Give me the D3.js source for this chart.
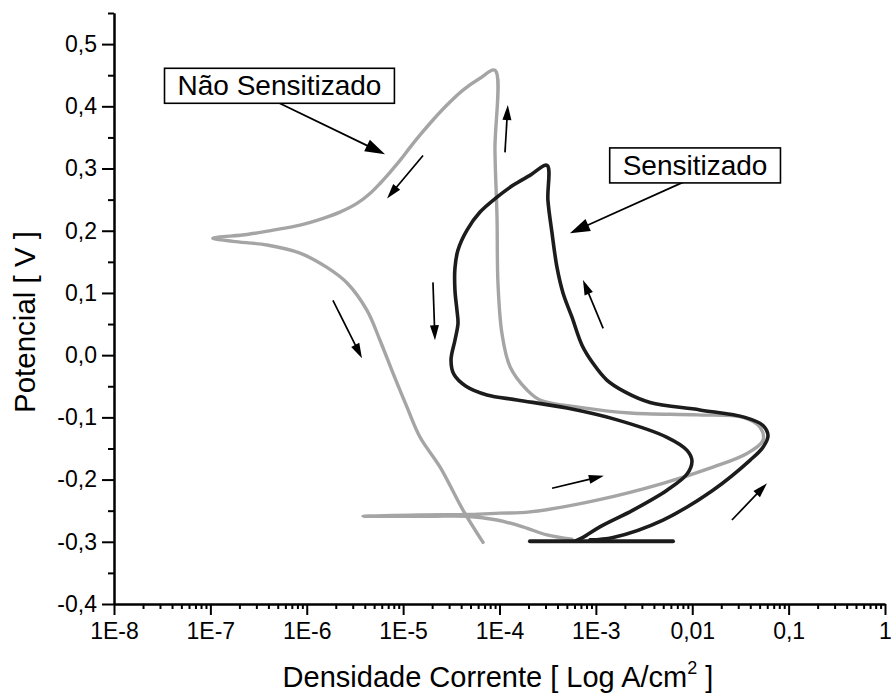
<!DOCTYPE html>
<html><head><meta charset="utf-8">
<script src="https://cdn.jsdelivr.net/npm/d3@7/dist/d3.min.js"></script>
<style>body{margin:0;background:#fff}svg{display:block}</style>
</head><body>
<svg id="chart" width="891" height="695"></svg>
<script>
// ---- data ----
const xTickValues = [1e-8, 1e-7, 1e-6, 1e-5, 1e-4, 1e-3, 1e-2, 1e-1, 1];
const xTickLabels = ["1E-8", "1E-7", "1E-6", "1E-5", "1E-4", "1E-3", "0,01", "0,1", "1"];
const yTickValues = [-0.4, -0.3, -0.2, -0.1, 0.0, 0.1, 0.2, 0.3, 0.4, 0.5];
const yTickLabels = ["-0,4", "-0,3", "-0,2", "-0,1", "0,0", "0,1", "0,2", "0,3", "0,4", "0,5"];

// Não Sensitizado (gray) : current density [A/cm2], potential [V]
const currentNaoSens = [5.65e-4, 3.11e-4, 1.75e-4, 9.42e-5, 4.60e-5, 1.90e-5, 3.84e-6, 1.50e-5, 4.94e-5, 1.01e-4,
  2.07e-4, 1.03e-3, 4.97e-3, 1.64e-2, 3.70e-2, 5.42e-2, 5.05e-2, 3.37e-2, 1.12e-2, 2.26e-3,
  6.84e-4, 2.63e-4, 1.93e-4, 1.29e-4, 1.06e-4, 9.64e-5, 9.42e-5, 8.97e-5, 8.97e-5,
  6.28e-5, 4.18e-5, 2.85e-5, 2.04e-5, 1.50e-5, 1.18e-5, 9.29e-6, 7.31e-6, 5.75e-6, 4.53e-6,
  3.32e-6, 2.21e-6, 1.48e-6, 8.51e-7, 4.47e-7, 2.40e-7, 1.06e-7,
  1.72e-7, 3.87e-7, 8.51e-7, 1.62e-6, 2.62e-6, 4.22e-6,
  5.75e-6, 7.85e-6, 1.10e-5, 1.50e-5, 2.42e-5, 4.18e-5, 6.75e-5];
const potentialNaoSens = [-0.296, -0.289, -0.276, -0.265, -0.259, -0.259, -0.259, -0.257, -0.256, -0.254,
  -0.252, -0.233, -0.206, -0.180, -0.158, -0.137, -0.116, -0.100, -0.096, -0.093,
  -0.084, -0.072, -0.056, -0.019, 0.035, 0.116, 0.222, 0.329, 0.458,
  0.445, 0.426, 0.402, 0.378, 0.354, 0.334, 0.313, 0.294, 0.276, 0.260,
  0.244, 0.230, 0.220, 0.209, 0.201, 0.194, 0.188,
  0.183, 0.177, 0.164, 0.141, 0.116, 0.072,
  0.024, -0.029, -0.084, -0.132, -0.180, -0.249, -0.301];

// Sensitizado (black)
const currentSens = [8.69e-4, 1.51e-3, 4.97e-3, 1.64e-2, 3.97e-2, 5.42e-2, 6.11e-2, 5.42e-2, 3.52e-2, 1.20e-2,
  3.65e-3, 2.00e-3, 1.30e-3, 9.33e-4, 7.18e-4, 5.65e-4, 4.56e-4, 3.95e-4, 3.51e-4, 3.18e-4, 3.11e-4,
  2.07e-4, 1.38e-4, 9.42e-5, 6.28e-5, 4.60e-5, 3.71e-5, 3.45e-5, 3.45e-5, 3.62e-5, 3.71e-5, 3.45e-5,
  3.14e-5, 3.37e-5, 4.49e-5, 7.41e-5, 1.52e-4, 5.01e-4, 1.66e-3, 5.47e-3, 8.83e-3, 9.93e-3,
  8.83e-3, 5.47e-3, 2.43e-3, 1.10e-3, 7.35e-4, 6.07e-4];
const potentialSens = [-0.297, -0.293, -0.265, -0.217, -0.169, -0.148, -0.130, -0.113, -0.100, -0.088,
  -0.076, -0.059, -0.040, -0.013, 0.016, 0.061, 0.100, 0.141, 0.196, 0.249, 0.305,
  0.289, 0.273, 0.254, 0.230, 0.201, 0.169, 0.140, 0.104, 0.072, 0.051, 0.024,
  -0.008, -0.031, -0.050, -0.064, -0.072, -0.085, -0.104, -0.132, -0.153, -0.170,
  -0.191, -0.217, -0.249, -0.276, -0.293, -0.299];
// initial step of the Sensitizado scan at -0,3 V
const currentSensStart = [2.07e-4, 6.31e-3];
const potentialSensStart = [-0.299, -0.299];

// annotations
const labelTexts = ["Não Sensitizado", "Sensitizado"];
const labelCurrent = [5.21e-7, 1.07e-2];
const labelPotential = [0.433, 0.305];
const arrowFrom = [[4.91e-7, 0.407], [1.61e-5, 0.321], [1.14e-4, 0.326], [9.48e-3, 0.283], [1.19e-3, 0.043],
  [2.04e-5, 0.117], [1.87e-6, 0.088], [3.51e-4, -0.214], [2.58e-2, -0.265]];
const arrowTo = [[6.49e-6, 0.323], [6.81e-6, 0.252], [1.22e-4, 0.402], [5.38e-4, 0.196], [7.35e-4, 0.121],
  [2.14e-5, 0.024], [3.74e-6, -0.005], [1.21e-3, -0.194], [5.97e-2, -0.206]];
const arrowBig = [true, false, false, true, false, false, false, false, false];

// ---- chart ----
const FONT = "'Liberation Sans', Arial, sans-serif";
const svg = d3.select("#chart");
const x = d3.scaleLog().domain([1e-8, 1]).range([114, 885]);
const y = d3.scaleLinear().domain([-0.4, 0.55]).range([604, 13]);

const lineGen = d3.line().x(d => x(d[0])).y(d => y(d[1])).curve(d3.curveCatmullRom.alpha(0.5));
const zip = (a, b) => a.map((v, i) => [v, b[i]]);

svg.append("path").datum(zip(currentNaoSens, potentialNaoSens))
  .attr("d", lineGen).attr("fill", "none").attr("stroke", "#a5a5a5")
  .attr("stroke-width", 3.4).attr("stroke-linejoin", "round").attr("stroke-linecap", "round");

svg.append("path").datum(zip(currentSensStart, potentialSensStart))
  .attr("d", d3.line().x(d => x(d[0])).y(d => y(d[1]))).attr("fill", "none").attr("stroke", "#1c1c1c")
  .attr("stroke-width", 4).attr("stroke-linecap", "round");
svg.append("path").datum(zip(currentSens, potentialSens))
  .attr("d", lineGen).attr("fill", "none").attr("stroke", "#1c1c1c")
  .attr("stroke-width", 3.6).attr("stroke-linejoin", "round").attr("stroke-linecap", "round");

// axes
const minorX = [];
for (let k = -8; k < 0; k++) for (let d = 2; d <= 9; d++) minorX.push(d * Math.pow(10, k));
const minorY = d3.range(-0.35, 0.56, 0.1);

function styleAxis(g) {
  g.selectAll("path,line").attr("stroke", "#000").attr("stroke-width", 2);
  g.selectAll("text").attr("font-family", FONT).attr("font-size", 23).attr("fill", "#000");
}
svg.append("g").attr("transform", "translate(0,604)")
  .call(d3.axisBottom(x).tickValues(minorX).tickSize(5).tickFormat("").tickSizeOuter(0))
  .call(styleAxis);
svg.append("g").attr("transform", "translate(114,0)")
  .call(d3.axisLeft(y).tickValues(minorY).tickSize(6).tickFormat("").tickSizeOuter(0))
  .call(styleAxis);
svg.append("g").attr("transform", "translate(0,604)")
  .call(d3.axisBottom(x).tickValues(xTickValues).tickFormat((d, i) => xTickLabels[i]).tickSize(11).tickPadding(8).tickSizeOuter(0))
  .call(styleAxis);
svg.append("g").attr("transform", "translate(114,0)")
  .call(d3.axisLeft(y).tickValues(yTickValues).tickFormat((d, i) => yTickLabels[i]).tickSize(12).tickPadding(5).tickSizeOuter(0))
  .call(styleAxis);

// axis titles
svg.append("text").attr("transform", "translate(35,322) rotate(-90)")
  .attr("text-anchor", "middle").attr("font-family", FONT).attr("font-size", 29.5)
  .text("Potencial [ V ]");
const xt = svg.append("text").attr("x", 498).attr("y", 687).attr("text-anchor", "middle")
  .attr("font-family", FONT).attr("font-size", 29);
xt.append("tspan").text("Densidade Corrente [ Log A/cm");
xt.append("tspan").attr("font-size", 18).attr("dy", -13).text("2");
xt.append("tspan").attr("dy", 13).text(" ]");

// arrows
const ag = svg.append("g");
arrowFrom.forEach((f, i) => {
  const t = arrowTo[i];
  const x1 = x(f[0]), y1 = y(f[1]), x2 = x(t[0]), y2 = y(t[1]);
  const len = arrowBig[i] ? 20 : 15, hw = arrowBig[i] ? 6.5 : 4.5;
  const dx = x2 - x1, dy = y2 - y1, L = Math.hypot(dx, dy), ux = dx / L, uy = dy / L;
  const bx = x2 - ux * len, by = y2 - uy * len;
  ag.append("line").attr("x1", x1).attr("y1", y1).attr("x2", bx + ux * 2).attr("y2", by + uy * 2)
    .attr("stroke", "#000").attr("stroke-width", 1.7);
  ag.append("polygon")
    .attr("points", `${x2},${y2} ${bx - uy * hw},${by + ux * hw} ${bx + uy * hw},${by - ux * hw}`)
    .attr("fill", "#000");
});

// labels in boxes
labelTexts.forEach((txt, i) => {
  const g = svg.append("g");
  const cx = x(labelCurrent[i]), cy = y(labelPotential[i]);
  const rect = g.append("rect");
  const t = g.append("text").attr("x", cx).attr("y", cy).attr("text-anchor", "middle")
    .attr("dominant-baseline", "central").attr("font-family", FONT).attr("font-size", 28).text(txt);
  const bb = t.node().getBBox();
  const padX = 13, h = 35;
  rect.attr("x", bb.x - padX).attr("y", cy - h / 2).attr("width", bb.width + 2 * padX).attr("height", h)
    .attr("fill", "#fff").attr("stroke", "#000").attr("stroke-width", 1.6);
});
</script>
</body></html>
